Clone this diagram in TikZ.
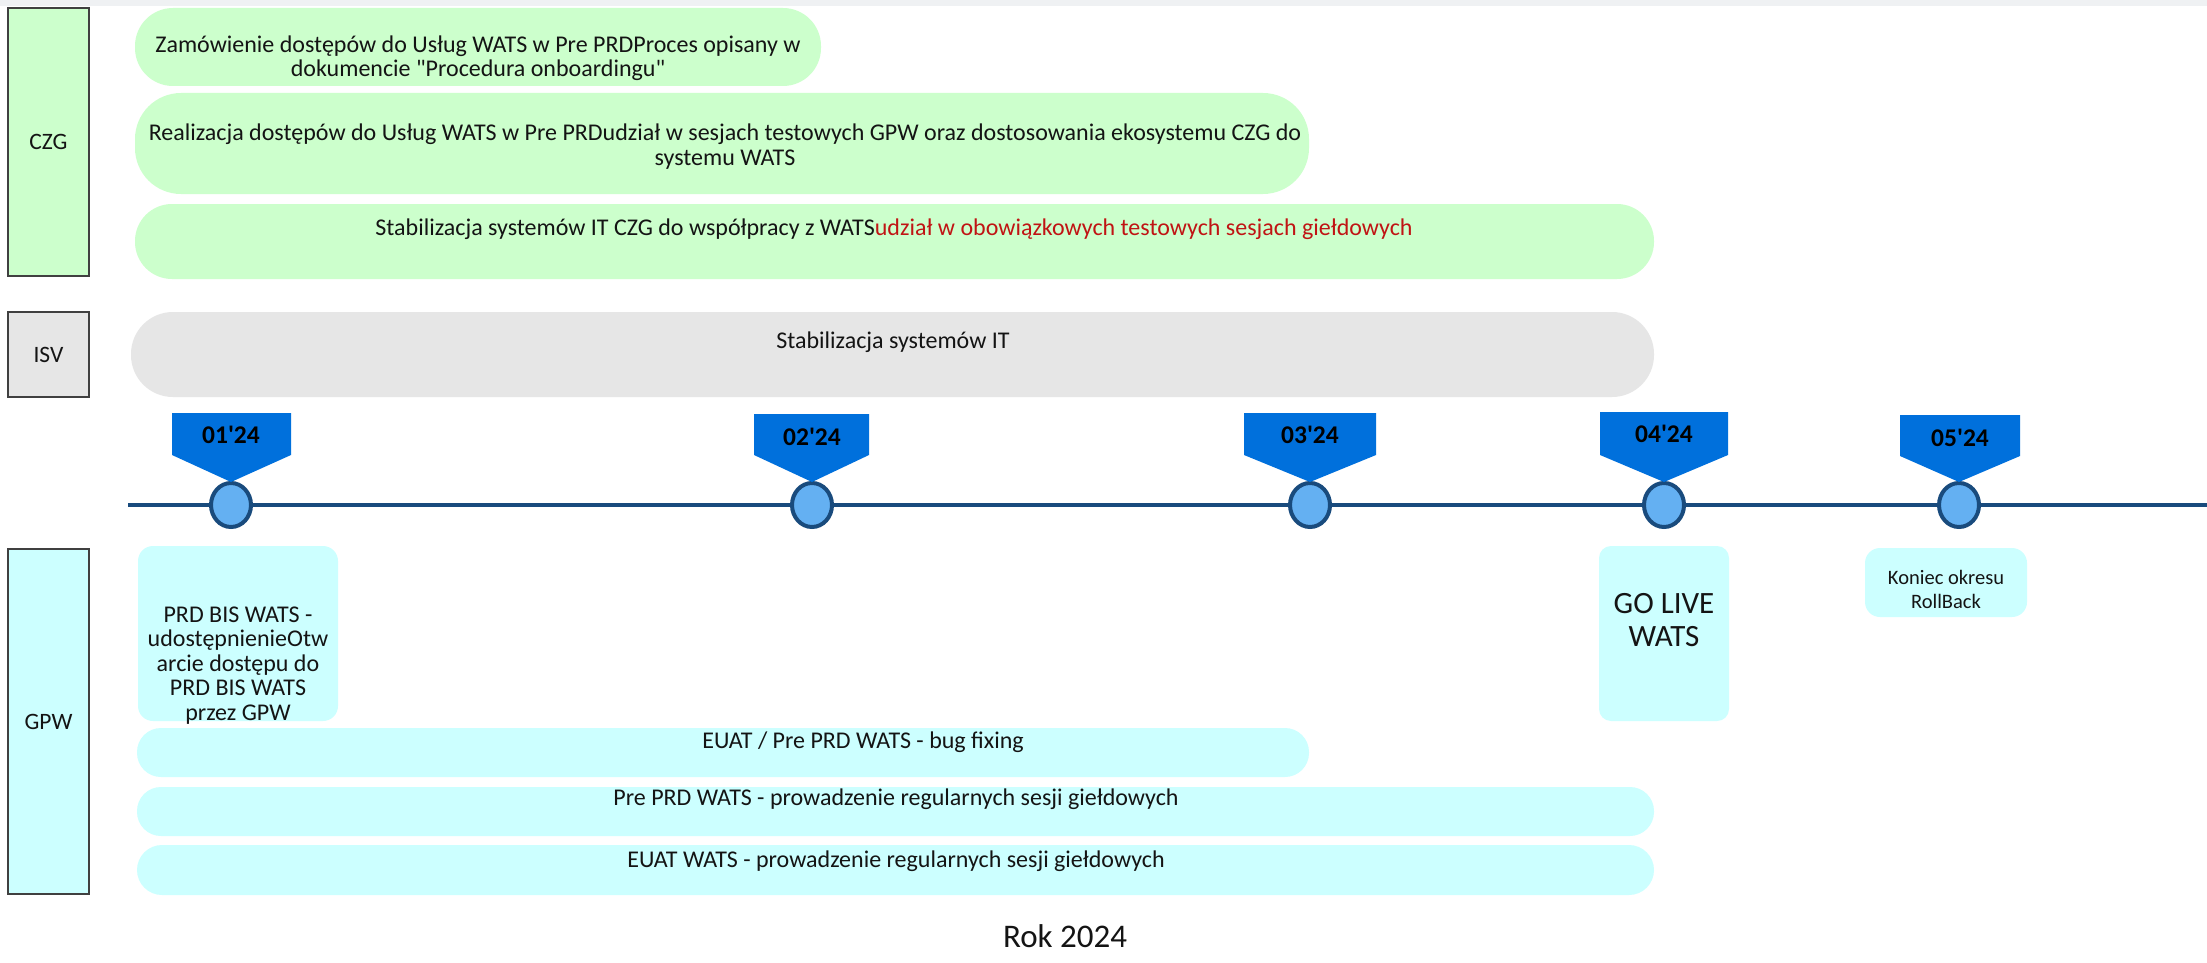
\documentclass[tikz,border=0pt]{standalone}
\usepackage{fontspec}
\setmainfont{Carlito}
\newfontfamily\qf{Carlito}
\usetikzlibrary{shapes.geometric}
\definecolor{zielen}{RGB}{204,255,204}
\definecolor{cyjan}{RGB}{204,255,255}
\definecolor{szary}{RGB}{230,230,230}
\definecolor{ramka}{RGB}{64,64,64}
\definecolor{granat}{RGB}{25,75,125}
\definecolor{jasnyn}{RGB}{100,176,242}
\definecolor{znacz}{RGB}{0,112,220}
\definecolor{czerw}{RGB}{192,20,20}
\definecolor{tekst}{RGB}{20,20,20}
\definecolor{pasek}{RGB}{239,241,243}
\begin{document}
\begin{tikzpicture}[x=1pt,y=-1pt,
  lanebox/.style={draw=ramka,line width=1.6pt,inner sep=0pt,text=tekst,font=\fontsize{23.5}{25}\selectfont},
  bar/.style={draw=none,inner sep=0pt},
  txt/.style={inner sep=0pt,align=center,text=tekst,font=\fontsize{24}{24.5}\selectfont},
  smalltxt/.style={txt,font=\fontsize{20.5}{24}\selectfont},
  bigtxt/.style={txt,font=\fontsize{31}{33}\selectfont},
  mtxt/.style={inner sep=0pt,text=black,font=\fontsize{25.5}{27}\selectfont\bfseries\qf},
  dot/.style={ellipse,draw=granat,fill=jasnyn,line width=4pt,minimum width=40pt,minimum height=44pt,inner sep=0pt},
  tl/.style={draw=granat,line width=4pt},
  mk/.style={fill=znacz}
]
\useasboundingbox (0,0) rectangle (2207,963);
\fill[white] (0,0) rectangle (2207,963);
\fill[pasek] (0,0) rectangle (2207,6);

% lane labels
\node[lanebox,fill=zielen,minimum width=81pt,minimum height=268pt] (czg) at (48.5,142) {CZG};
\node[lanebox,fill=szary,minimum width=81pt,minimum height=85pt] (isv) at (48.5,354.5) {ISV};
\node[lanebox,fill=cyjan,minimum width=81pt,minimum height=345pt] (gpw) at (48.5,721.5) {GPW};

% CZG bars
\node[bar,fill=zielen,rounded corners=38pt,minimum width=686pt,minimum height=78pt] (b1) at (478,47) {};
\node[txt] (t1) at (478,58.4) {Zamówienie dostępów do Usług WATS w Pre PRDProces opisany w\\dokumencie {\qf"}Procedura onboardingu{\qf"}};
\node[bar,fill=zielen,rounded corners=46pt,minimum width=1174pt,minimum height=101pt] (b2) at (722,143.5) {};
\node[txt] (t2) at (725,146.4) {Realizacja dostępów do Usług WATS w Pre PRDudział w sesjach testowych GPW oraz dostosowania ekosystemu CZG do\\systemu WATS};
\node[bar,fill=zielen,rounded corners=37pt,minimum width=1519pt,minimum height=75pt] (b3) at (894.5,241.5) {};
\node[txt] (t3) at (894,229.4) {Stabilizacja systemów IT CZG do współpracy z WATS\textcolor{czerw}{udział w obowiązkowych testowych sesjach giełdowych}};

% ISV bar
\node[bar,fill=szary,rounded corners=42pt,minimum width=1523pt,minimum height=85pt] (b4) at (892.5,354.5) {};
\node[txt] (t4) at (893,342) {Stabilizacja systemów IT};

% timeline
\coordinate (ls) at (128,505);
\coordinate (le) at (2207,505);
\draw[tl] (ls) -- (le);
\node[dot] (c1) at (231,505) {};
\node[dot] (c2) at (812,505) {};
\node[dot] (c3) at (1310,505) {};
\node[dot] (c4) at (1664,505) {};
\node[dot] (c5) at (1959,505) {};

% month markers
\fill[mk] (172,413) -- (291,413) -- (291,455) -- (231,482) -- (172,455) -- cycle;
\node[mtxt] (m1) at (231,435) {01'24};
\fill[mk] (754,414) -- (869,414) -- (869,455) -- (812,482) -- (754,455) -- cycle;
\node[mtxt] (m2) at (812,437) {02'24};
\fill[mk] (1244,413) -- (1376,413) -- (1376,455) -- (1310,482) -- (1244,455) -- cycle;
\node[mtxt] (m3) at (1310,435) {03'24};
\fill[mk] (1600,412) -- (1728,412) -- (1728,455) -- (1664,482) -- (1600,455) -- cycle;
\node[mtxt] (m4) at (1664,434) {04'24};
\fill[mk] (1900,415) -- (2020,415) -- (2020,456) -- (1959,482) -- (1900,456) -- cycle;
\node[mtxt] (m5) at (1960,438) {05'24};

% GPW items
\node[bar,fill=cyjan,rounded corners=15pt,minimum width=200pt,minimum height=175pt] (g1) at (238,633.5) {};
\node[txt] (tg1) at (238,665.6) {PRD BIS WATS -\\udostępnienieOtw\\arcie dostępu do\\PRD BIS WATS\\przez GPW};
\node[bar,fill=cyjan,rounded corners=12pt,minimum width=130pt,minimum height=175pt] (g2) at (1664,633.5) {};
\node[bigtxt] (tg2) at (1664,620) {GO LIVE\\WATS};
\node[bar,fill=cyjan,rounded corners=15pt,minimum width=162pt,minimum height=69pt] (g3) at (1946,582.5) {};
\node[smalltxt] (tg3) at (1946,589) {Koniec okresu\\RollBack};

\node[bar,fill=cyjan,rounded corners=24pt,minimum width=1172pt,minimum height=49pt] (g4) at (723,752.5) {};
\node[txt] (tg4) at (863,742) {EUAT / Pre PRD WATS - bug fixing};
\node[bar,fill=cyjan,rounded corners=24pt,minimum width=1517pt,minimum height=49pt] (g5) at (895.5,811.5) {};
\node[txt] (tg5) at (896,799.5) {Pre PRD WATS - prowadzenie regularnych sesji giełdowych};
\node[bar,fill=cyjan,rounded corners=25pt,minimum width=1517pt,minimum height=50pt] (g6) at (895.5,870) {};
\node[txt] (tg6) at (896,861) {EUAT WATS - prowadzenie regularnych sesji giełdowych};

\node[txt,font=\fontsize{33}{36}\selectfont] (rok) at (1065,936) {Rok 2024};
\end{tikzpicture}
\end{document}
